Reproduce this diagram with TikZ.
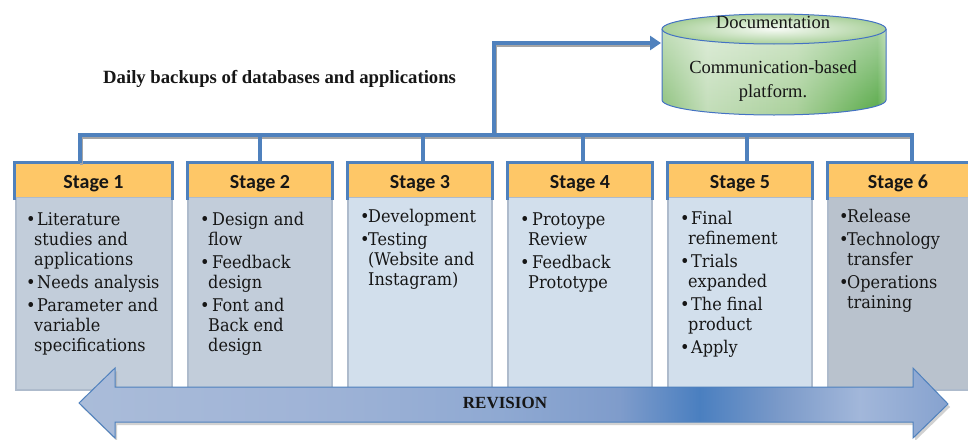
\documentclass[tikz,border=0pt]{standalone}
\usepackage{fontspec}
\usetikzlibrary{arrows.meta,fadings}
\newfontfamily\tnr{Liberation Serif}
\newfontfamily\carl{Carlito}
\newfontfamily\cam[FakeStretch=0.92]{DejaVu Serif}
\definecolor{bblue}{HTML}{4F81BD}
\definecolor{hdr}{HTML}{FEC767}
\definecolor{bodyA}{HTML}{C2CDDA}
\definecolor{bodyB}{HTML}{D2DFEC}
\definecolor{bodyC}{HTML}{B9C2CD}
\definecolor{bodyline}{HTML}{AEBBCC}
\definecolor{txt}{HTML}{161616}
\definecolor{shad}{HTML}{A5A5A5}
\definecolor{cylline}{HTML}{4472C4}
\definecolor{r1}{HTML}{AABCD9}
\definecolor{r2}{HTML}{A0B4D7}
\definecolor{r3}{HTML}{8FA9D2}
\definecolor{r4}{HTML}{7F9CCB}
\definecolor{r5}{HTML}{4A7FC0}
\definecolor{r6}{HTML}{7B9AC9}
\definecolor{r7}{HTML}{A2B7DA}
\definecolor{r8}{HTML}{86A2CF}
\definecolor{g1}{HTML}{8CC17C}
\definecolor{g2}{HTML}{C2DDB8}
\definecolor{g3}{HTML}{A9D09A}
\definecolor{g4}{HTML}{6FB55F}
\definecolor{g5}{HTML}{5AAA4A}
\definecolor{g6}{HTML}{8EC47E}
\pgfdeclarehorizontalshading{revshade}{100bp}{color(0bp)=(r1); color(25bp)=(r1); color(37.7bp)=(r2); color(49.2bp)=(r3); color(56.1bp)=(r4); color(60.7bp)=(r5); color(65.3bp)=(r6); color(69.9bp)=(r7); color(75bp)=(r8); color(100bp)=(r8)}
\pgfdeclarehorizontalshading{cylshade}{100bp}{color(0bp)=(g1); color(25bp)=(g1); color(35bp)=(g2); color(55bp)=(g3); color(68bp)=(g4); color(73bp)=(g5); color(75bp)=(g6); color(100bp)=(g6)}
\newcommand\bul{{\cam\textbullet}}
\newcommand\bx[1]{\makebox[#1][l]{\bul}}
\tikzset{
  hdrbox/.style={fill=hdr, inner sep=0pt, minimum height=34pt, text height=16pt, text depth=0pt, font=\carl\bfseries\fontsize{20}{22}\selectfont, text=txt},
  hb/.style={draw=bblue, line width=3pt},
  bodybox/.style={fill=#1, draw=bodyline, line width=1.5pt, inner sep=0pt, minimum height=193pt},
  bodytxt/.style={anchor=base west, inner sep=0pt, font=\cam\fontsize{17.5}{20}\selectfont, text=txt},
  bus/.style={draw=bblue, line width=3.5pt},
  busshadow/.style={draw=shad, line width=3pt},
  serif/.style={font=\tnr\fontsize{18.5}{22}\selectfont, text=txt, inner sep=0pt}
}
\begin{document}
\begin{tikzpicture}[x=1pt,y=-1pt]
\useasboundingbox (0,0) rectangle (968,439);
\fill[white] (0,0) rectangle (968,439);

% title
\node[serif, font=\tnr\bfseries\fontsize{18.7}{22}\selectfont, anchor=base west] (title) at (103,83) {Daily backups of databases and applications};

% bodies
\node[bodybox=bodyA, minimum width=156pt] (b1) at (94,293.5) {};
\node[bodybox=bodyA, minimum width=144pt] (b2) at (260,293.5) {};
\node[bodybox=bodyB, minimum width=144pt] (b3) at (420,293.5) {};
\node[bodybox=bodyB, minimum width=144pt] (b4) at (580,293.5) {};
\node[bodybox=bodyB, minimum width=144pt] (b5) at (740,293.5) {};
\node[bodybox=bodyC, minimum width=148pt] (b6) at (902,293.5) {};

% headers
\node[hdrbox, minimum width=157pt] (h1) at (93.5,180) {Stage 1};
\node[hdrbox, minimum width=144pt] (h2) at (260,180) {Stage 2};
\node[hdrbox, minimum width=144pt] (h3) at (420,180) {Stage 3};
\node[hdrbox, minimum width=144pt] (h4) at (580,180) {Stage 4};
\node[hdrbox, minimum width=144pt] (h5) at (740,180) {Stage 5};
\node[hdrbox, minimum width=148pt] (h6) at (902,180) {Stage 6\hspace*{8pt}};
\foreach \h in {h1,h2,h3,h4,h5,h6}{
  \draw[hb] ([yshift=-3pt]\h.south west) -- (\h.north west) -- (\h.north east) -- ([yshift=-3pt]\h.south east);
}

% body texts
\node[bodytxt] (t1) at (26,225) {\begin{tabular}[t]{@{}l@{}l@{}}
\bx{8pt} & \hspace{3pt}Literature\\
 & studies and\\
 & applications\\[3pt]
\bx{8pt} & \hspace{3pt}Needs analysis\\[3pt]
\bx{8pt} & \hspace{3pt}Parameter and\\
 & variable\\
 & specifications
\end{tabular}};
\node[bodytxt] (t2) at (200,225) {\begin{tabular}[t]{@{}l@{}l@{}}
\bx{8pt} & \hspace{4pt}Design and\\
 & flow\\[3pt]
\bx{8pt} & \hspace{4pt}Feedback\\
 & design\\[3pt]
\bx{8pt} & \hspace{4pt}Font and\\
 & Back end\\
 & design
\end{tabular}};
\node[bodytxt] (t3) at (360,222) {\begin{tabular}[t]{@{}l@{}l@{}}
\bx{8pt} & Development\\[3pt]
\bx{8pt} & Testing\\
 & (Website and\\
 & Instagram)
\end{tabular}};
\node[bodytxt] (t4) at (520,225) {\begin{tabular}[t]{@{}l@{}l@{}}
\bx{8pt} & \hspace{4pt}Protoype\\
 & Review\\[3pt]
\bx{8pt} & \hspace{4pt}Feedback\\
 & Prototype
\end{tabular}};
\node[bodytxt] (t5) at (680,224) {\begin{tabular}[t]{@{}l@{}l@{}}
\bx{8pt} & \hspace{3pt}Final\\
 & refinement\\[3pt]
\bx{8pt} & \hspace{3pt}Trials\\
 & expanded\\[3pt]
\bx{8pt} & \hspace{3pt}The final\\
 & product\\[3pt]
\bx{8pt} & \hspace{3pt}Apply
\end{tabular}};
\node[bodytxt] (t6) at (839,222) {\begin{tabular}[t]{@{}l@{}l@{}}
\bx{8pt} & Release\\[3pt]
\bx{8pt} & Technology\\
 & transfer\\[3pt]
\bx{8pt} & Operations\\
 & training
\end{tabular}};

% cylinder
\path[shading=cylshade] (662,29) -- (662,100) arc[start angle=180,end angle=360,x radius=112pt,y radius=15pt] -- (886,29) arc[start angle=0,end angle=180,x radius=112pt,y radius=15pt] -- cycle;
\fill[white, path fading=south, fill opacity=0.55] (662,29) -- (662,100) arc[start angle=180,end angle=360,x radius=112pt,y radius=15pt] -- (886,29) arc[start angle=0,end angle=180,x radius=112pt,y radius=15pt] -- cycle;
\draw[cylline, line width=1pt] (662,29) -- (662,100) arc[start angle=180,end angle=360,x radius=112pt,y radius=15pt] -- (886,29);
\path[inner color=white!85!g2, outer color=g3] (774,29) ellipse[x radius=112pt, y radius=15pt];
\draw[cylline, line width=1pt] (774,29) ellipse[x radius=112pt, y radius=15pt];
\node[serif, anchor=base] (doc) at (773,28) {Documentation};
\node[serif, anchor=base] (plat) at (773,73) {Communication-based};
\node[serif, anchor=base] (plat2) at (773,97) {platform.};
\coordinate (cyl) at (661,43);

% bus connectors
\coordinate (busy) at (0,135);
\coordinate (d1) at ([xshift=-13.5pt]h1.north);
\coordinate (d2) at (h2.north);
\coordinate (d3) at ([xshift=3pt]h3.north);
\coordinate (d4) at ([xshift=3pt]h4.north);
\coordinate (d5) at ([xshift=7pt]h5.north);
\coordinate (d6) at ([xshift=10pt]h6.north);
\coordinate (up) at (494,135);
\begin{scope}[transform canvas={xshift=1pt,yshift=-2.5pt}]
  \draw[busshadow] (d1) |- (d6 |- busy);
  \draw[busshadow] (up) |- ([xshift=-12pt]cyl);
\end{scope}
\draw[bus] (d1) |- (d6 |- busy) -- (d6);
\foreach \d in {d2,d3,d4,d5}{ \draw[bus] (\d) -- (\d |- busy); }
\draw[bus, -{Triangle[length=11pt,width=14pt]}] (up) |- (cyl);

% revision arrow
\fill[shad, opacity=0.5] (81,406) -- (117,371) -- (117,390) -- (915,390) -- (915,371) -- (950,407) -- (915,441) -- (915,425) -- (117,425) -- (117,441) -- cycle;
\path[shading=revshade, draw=bblue, line width=1pt] (79,403) -- (115,368) -- (115,387) -- (913,387) -- (913,368) -- (948,404) -- (913,438) -- (913,422) -- (115,422) -- (115,438) -- cycle;
\node[font=\tnr\bfseries\fontsize{17}{20}\selectfont, text=txt, inner sep=0pt] (rev) at (505,403) {REVISION};
\end{tikzpicture}
\end{document}
